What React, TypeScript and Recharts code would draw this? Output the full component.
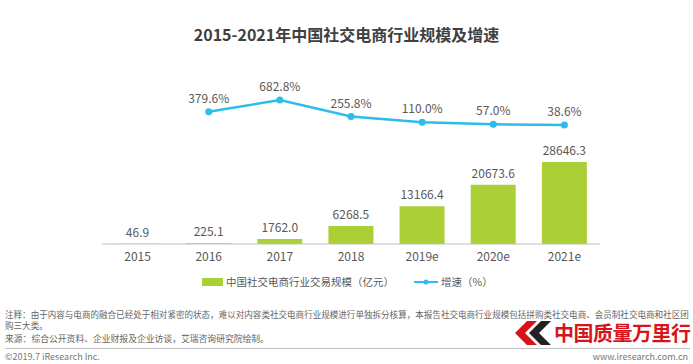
import React from "react";
import {
  ComposedChart,
  Bar,
  Line,
  XAxis,
  YAxis,
  LabelList,
} from "recharts";

const years = ["2015", "2016", "2017", "2018", "2019e", "2020e", "2021e"];
const marketSize = [46.9, 225.1, 1762.0, 6268.5, 13166.4, 20673.6, 28646.3];
const growthRate: (number | null)[] = [null, 379.6, 682.8, 255.8, 110.0, 57.0, 38.6];

const title = "2015-2021年中国社交电商行业规模及增速";
const barName = "中国社交电商行业交易规模（亿元）";
const lineName = "增速（%）";
const noteLines = [
  "注释：由于内容与电商的融合已经处于相对紧密的状态，难以对内容类社交电商行业规模进行单独拆分核算，本报告社交电商行业规模包括拼购类社交电商、会员制社交电商和社区团",
  "购三大类。",
];
const source = "来源：综合公开资料、企业财报及企业访谈，艾瑞咨询研究院绘制。";
const copyright = "©2019.7 iResearch Inc.";
const site = "www.iresearch.com.cn";
const logoText = "中国质量万里行";

const GREEN = "#abcf36";
const BLUE = "#2cbdea";
const TEXT = "#595959";
const FONT = "'Noto Sans CJK SC', 'Noto Sans', sans-serif";

const data = years.map((year, i) => ({
  year,
  size: marketSize[i],
  growth: growthRate[i],
}));

export default function App() {
  return (
    <div
      style={{
        position: "absolute",
        left: 0,
        top: 0,
        width: 693,
        height: 364,
        background: "#fff",
        fontFamily: FONT,
        overflow: "hidden",
      }}
    >
      <div
        style={{
          position: "absolute",
          top: 23,
          left: 0,
          width: 693,
          textAlign: "center",
          fontSize: 16,
          fontWeight: 700,
          color: "#404040",
          lineHeight: "22px",
        }}
      >
        {title}
      </div>

      <div style={{ position: "absolute", left: 0, top: 0 }}>
        <ComposedChart
          width={693}
          height={290}
          data={data}
          margin={{ top: 60, right: 93, left: 102, bottom: 0 }}
        >
          <XAxis
            dataKey="year"
            height={46}
            axisLine={{ stroke: "#bfbfbf" }}
            tickLine={false}
            tick={{ fontSize: 12, fill: TEXT, fontFamily: FONT }}
          />
          <YAxis yAxisId="size" hide domain={[0, 64281]} />
          <YAxis
            yAxisId="growth"
            orientation="right"
            hide
            domain={[-3028, 1714]}
            allowDataOverflow
          />
          <Bar
            yAxisId="size"
            dataKey="size"
            fill={GREEN}
            barSize={45}
            isAnimationActive={false}
          >
            <LabelList
              dataKey="size"
              position="top"
              offset={7}
              formatter={(v: any) => Number(v).toFixed(1)}
              style={{ fontSize: 12, fill: TEXT, fontFamily: FONT }}
            />
          </Bar>
          <Line
            yAxisId="growth"
            dataKey="growth"
            stroke={BLUE}
            strokeWidth={2.5}
            dot={{ r: 3.5, fill: BLUE, stroke: BLUE, strokeWidth: 0 }}
            isAnimationActive={false}
          >
            <LabelList
              dataKey="growth"
              position="top"
              offset={9}
              formatter={(v: any) =>
                v === null || v === undefined ? "" : Number(v).toFixed(1) + "%"
              }
              style={{ fontSize: 12, fill: TEXT, fontFamily: FONT }}
            />
          </Line>
        </ComposedChart>
      </div>

      {/* legend */}
      <div
        style={{
          position: "absolute",
          top: 274,
          left: 202,
          display: "flex",
          alignItems: "center",
          fontSize: 10.5,
          color: TEXT,
          lineHeight: "16px",
        }}
      >
        <span style={{ display: "inline-block", width: 21, height: 8, background: GREEN, marginRight: 3 }} />
        <span>{barName}</span>
        <svg width={24} height={10} style={{ marginLeft: 20, marginRight: 3 }}>
          <line x1={0} y1={5} x2={24} y2={5} stroke={BLUE} strokeWidth={2} />
          <circle cx={12} cy={5} r={2.5} fill={BLUE} />
        </svg>
        <span>{lineName}</span>
      </div>

      {/* notes */}
      {noteLines.map((line, i) => (
        <div
          key={i}
          style={{
            position: "absolute",
            top: 309 + i * 10.5,
            left: 5,
            fontSize: 8.55,
            lineHeight: "10.5px",
            color: "#666",
            whiteSpace: "nowrap",
          }}
        >
          {line}
        </div>
      ))}
      <div
        style={{
          position: "absolute",
          top: 333,
          left: 5,
          fontSize: 8.8,
          lineHeight: "11px",
          color: "#666",
        }}
      >
        {source}
      </div>

      {/* logo */}
      <svg
        width={40}
        height={26}
        style={{ position: "absolute", left: 513, top: 320 }}
      >
        <polygon points="14,1 24,1 12,13 24,25 14,25 2,13" fill="#d7141a" />
        <polygon points="28,1 38,1 26,13 38,25 28,25 16,13" fill="#222" />
      </svg>
      <div
        style={{
          position: "absolute",
          left: 554,
          top: 320,
          fontSize: 20,
          lineHeight: "26px",
          color: "#d7141a",
          fontWeight: 700,
          letterSpacing: -0.5,
        }}
      >
        {logoText}
      </div>

      <div
        style={{
          position: "absolute",
          left: 5,
          top: 348,
          width: 685,
          height: 0,
          borderTop: "1px solid #bfbfbf",
        }}
      />
      <div
        style={{
          position: "absolute",
          left: 5,
          top: 351,
          fontSize: 9,
          lineHeight: "12px",
          color: "#777",
        }}
      >
        {copyright}
      </div>
      <div
        style={{
          position: "absolute",
          right: 5,
          top: 351,
          fontSize: 9,
          lineHeight: "12px",
          color: "#777",
        }}
      >
        {site}
      </div>
    </div>
  );
}
